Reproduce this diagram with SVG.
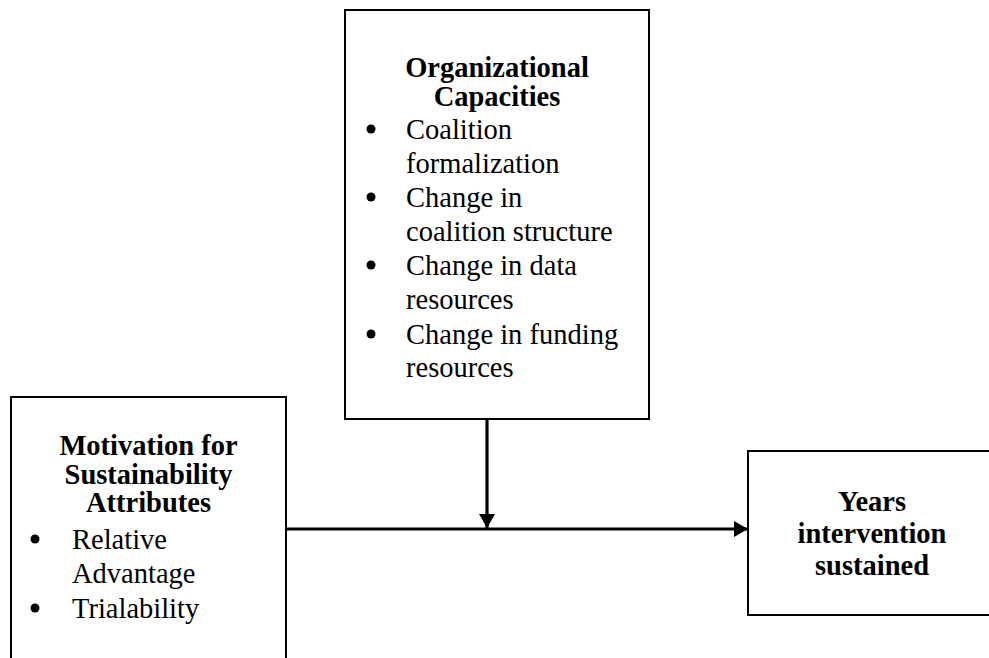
<svg xmlns="http://www.w3.org/2000/svg" width="989" height="658" viewBox="0 0 989 658">
  <style>
    .box { fill: #ffffff; stroke: #000000; stroke-width: 2; }
    .title { font-family: "Liberation Serif", "Times New Roman", serif; font-size: 28.5px; font-weight: bold; fill: #000; text-anchor: middle; }
    .item { font-family: "Liberation Serif", "Times New Roman", serif; font-size: 28.5px; fill: #000; }
    .link { stroke: #000; stroke-width: 3.2; fill: none; }
  </style>
  <defs>
    <marker id="arrow" markerUnits="userSpaceOnUse" markerWidth="14" markerHeight="16" refX="14" refY="8" orient="auto">
      <path d="M0,0 L14,8 L0,16 Z" fill="#000"/>
    </marker>
  </defs>
  <rect width="989" height="658" fill="#ffffff"/>

  <!-- Organizational capacities (moderator) -->
  <g id="org-capacities">
    <rect class="box" x="345" y="10" width="304" height="409"/>
    <text class="title" x="497" y="77">Organizational</text>
    <text class="title" x="497" y="106">Capacities</text>
    <g class="item">
      <circle cx="371" cy="129" r="4.5"/>
      <text x="406" y="139">Coalition</text>
      <text x="406" y="173">formalization</text>
      <circle cx="371" cy="197" r="4.5"/>
      <text x="406" y="207">Change in</text>
      <text x="406" y="241">coalition structure</text>
      <circle cx="371" cy="265" r="4.5"/>
      <text x="406" y="275">Change in data</text>
      <text x="406" y="309">resources</text>
      <circle cx="371" cy="334" r="4.5"/>
      <text x="406" y="344">Change in funding</text>
      <text x="406" y="377">resources</text>
    </g>
  </g>

  <!-- Motivation for sustainability attributes (predictor) -->
  <g id="motivation">
    <rect class="box" x="11" y="397" width="275" height="280"/>
    <text class="title" x="148.5" y="455">Motivation for</text>
    <text class="title" x="148.5" y="484">Sustainability</text>
    <text class="title" x="148.5" y="512">Attributes</text>
    <g class="item">
      <circle cx="35" cy="539" r="4.5"/>
      <text x="72" y="549">Relative</text>
      <text x="72" y="583">Advantage</text>
      <circle cx="35" cy="608" r="4.5"/>
      <text x="72" y="618">Trialability</text>
    </g>
  </g>

  <!-- Years intervention sustained (outcome) -->
  <g id="years-sustained">
    <rect class="box" x="748" y="451" width="260" height="164"/>
    <text class="title" x="872" y="511">Years</text>
    <text class="title" x="872" y="543">intervention</text>
    <text class="title" x="872" y="575">sustained</text>
  </g>

  <!-- Connectors -->
  <g id="connectors">
    <line class="link" x1="286" y1="529" x2="748" y2="529" marker-end="url(#arrow)"/>
    <line class="link" x1="487" y1="419" x2="487" y2="528" marker-end="url(#arrow)"/>
  </g>
</svg>
